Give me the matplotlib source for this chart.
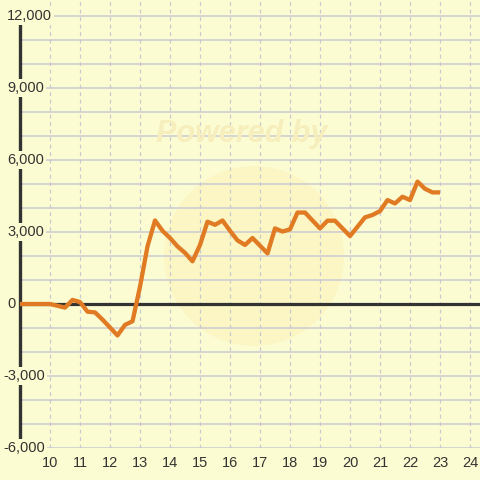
import matplotlib
matplotlib.use("Agg")
import matplotlib.pyplot as plt
import matplotlib.transforms as mtransforms
from matplotlib.patches import Circle

# data
x_vals = [9.0, 10.0, 10.5, 10.75, 11.0, 11.25, 11.5, 11.75, 12.25, 12.5, 12.75,
          13.0, 13.25, 13.5, 13.75, 14.0, 14.25, 14.5, 14.75, 15.0, 15.25, 15.5,
          15.75, 16.0, 16.25, 16.5, 16.75, 17.25, 17.5, 17.75, 18.0, 18.25, 18.5,
          19.0, 19.25, 19.5, 20.0, 20.5, 20.75, 21.0, 21.25, 21.5, 21.75, 22.0,
          22.25, 22.5, 22.75, 23.0]
y_vals = [0, 0, -150, 170, 80, -320, -350, -650, -1310, -870, -720,
          720, 2400, 3480, 3050, 2750, 2400, 2130, 1780, 2460, 3430, 3300,
          3480, 3050, 2650, 2460, 2750, 2110, 3150, 3020, 3110, 3810, 3810,
          3150, 3470, 3470, 2830, 3610, 3710, 3870, 4330, 4190, 4470, 4330,
          5100, 4800, 4650, 4650]
x_ticks = list(range(10, 25))
y_ticks = [-6000, -3000, 0, 3000, 6000, 9000, 12000]
y_labels = ["-6,000", "-3,000", "0", "3,000", "6,000", "9,000", "12,000"]

bg = "#fcfcd2"
text_col = "#333333"
plt.rcParams["font.family"] = ["Liberation Sans", "DejaVu Sans"]

fig = plt.figure(figsize=(4.8, 4.8), dpi=100, facecolor=bg)
ax = fig.add_axes([20 / 480, 32 / 480, 460 / 480, 448 / 480])
ax.set_facecolor(bg)
ax.set_xlim(9, 24 + 1 / 3)
ax.set_ylim(-6000, 12000 + 16 / 24 * 1000)

# faint watermark
circ = Circle((254 / 480, 1 - 256 / 480), 90 / 480, transform=fig.transFigure,
              facecolor="#fbf2b8", edgecolor="none", alpha=0.55, zorder=0.1)
ax.add_artist(circ)
fig.text(242 / 480, 1 - 134 / 480, "Powered by", ha="center", va="center",
         fontsize=22, fontweight="bold", style="italic", color="#f6eebc",
         zorder=0.2)

# grid
for v in range(-6000, 12001, 1000):
    ax.axhline(v, color="#cacad2", linewidth=1.1, zorder=0.5)
for t in x_ticks:
    ax.axvline(t, color="#c8c8d0", linewidth=0.9, linestyle=(0, (3, 3)),
               zorder=0.5)

ax.axhline(0, color=text_col, linewidth=2.3, zorder=2)

for s in ["top", "right", "bottom"]:
    ax.spines[s].set_visible(False)
ax.spines["left"].set_color(text_col)
ax.spines["left"].set_linewidth(2.4)
ax.spines["left"].set_bounds(-6000, 12000)
ax.spines["left"].set_zorder(2)

ax.plot(x_vals, y_vals, color="#e07b24", linewidth=3.1,
        solid_joinstyle="round", solid_capstyle="butt", zorder=3)

ax.set_xticks(x_ticks)
ax.set_xticklabels([str(t) for t in x_ticks], fontsize=10.5, color=text_col)
ax.tick_params(axis="x", length=0, pad=6)
ax.set_yticks([])

# y labels sit on top of the spine
trans = mtransforms.blended_transform_factory(fig.transFigure, ax.transData)
for v, lab in zip(y_ticks, y_labels):
    xpos = 3 / 480 if lab.startswith("-") else 7 / 480
    ax.text(xpos, v, lab, transform=trans, ha="left", va="center",
            fontsize=10.5, color=text_col, zorder=5, clip_on=False,
            bbox=dict(facecolor=bg, edgecolor="none", pad=1.5))

fig.savefig("out.png", dpi=100, facecolor=bg)
